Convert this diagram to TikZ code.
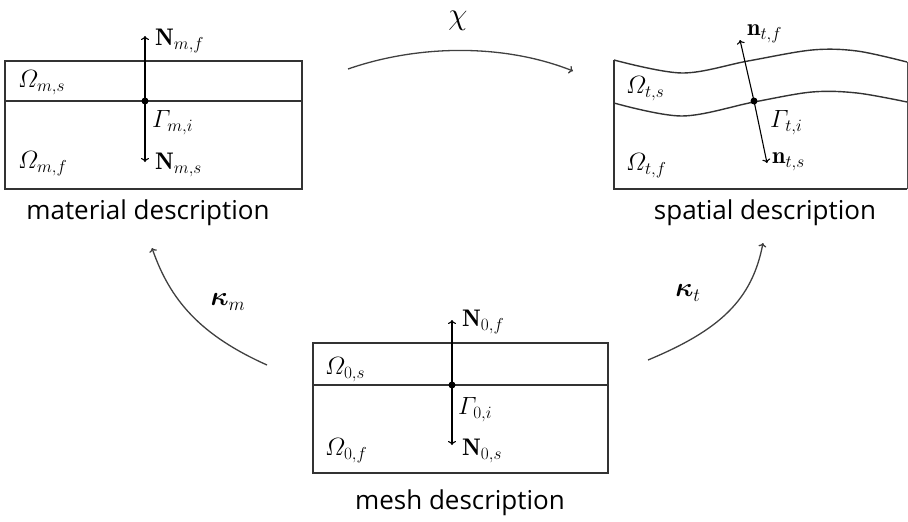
\documentclass[tikz,border=0pt]{standalone}
\usepackage{amsmath,bm}
\usepackage{fontspec}
\usetikzlibrary{arrows.meta}
\newfontfamily\capfont{Open Sans}
\begin{document}
\begin{tikzpicture}[x=1pt,y=-1pt,
  boxline/.style={line width=1.4pt, draw=black!80},
  normal/.style={line width=1.1pt, -{To[length=4pt,width=8pt]}},
  maparrow/.style={line width=1.3pt, draw=black!75, -{To[length=4pt,width=8pt]}},
  lab/.style={inner sep=0pt, font=\fontsize{24}{26}\selectfont},
  biglab/.style={inner sep=0pt, font=\fontsize{24}{26}\selectfont, scale=1.09, transform shape},
  chilab/.style={inner sep=0pt, font=\fontsize{24}{26}\selectfont, scale=1.25, transform shape},
  caption/.style={inner sep=0pt, font=\capfont\fontsize{26}{30}\selectfont},
  dot/.style={circle, fill=black, inner sep=0pt, minimum size=7pt}]
\useasboundingbox (0,0) rectangle (908,522);

% ---------- material description ----------
\draw[boxline] (5,61) rectangle (302,189);
\draw[boxline] (5,101) -- (302,101);
\coordinate (mtop) at (145,36);
\coordinate (mbot) at (145,162);
\node[dot] (mdot) at (145,101) {};
\draw[normal] (mdot.center) -- (mtop);
\draw[normal] (mdot.center) -- (mbot);
\node[lab, anchor=west] (Nmf) at (155,41) {$\mathbf{N}_{m,f}$};
\node[lab, anchor=west] (Oms) at (18,83) {$\varOmega_{m,s}$};
\node[lab, anchor=west] (Gmi) at (152,123) {$\varGamma_{m,i}$};
\node[lab, anchor=west] (Omf) at (18,164) {$\varOmega_{m,f}$};
\node[lab, anchor=west] (Nms) at (155,165) {$\mathbf{N}_{m,s}$};
\node[caption] (mcap) at (148,213) {material description};

% ---------- spatial description ----------
\draw[boxline] (614,60) -- (614,189) -- (907,189);
\draw[boxline] plot[smooth, tension=0.55] coordinates {(614,60) (682,73) (748,61) (812,50) (857,51) (907,62)};
\draw[boxline] plot[smooth, tension=0.55] coordinates {(614,103) (682,116) (754,102) (812,92) (857,93) (907,102)};
\draw[line width=0.7pt, draw=black!70] (907,62) -- (907,189);
\coordinate (stop) at (740,40);
\coordinate (sbot) at (767,163);
\node[dot] (sdot) at (754,101) {};
\draw[normal] (sdot.center) -- (stop);
\draw[normal] (sdot.center) -- (sbot);
\node[lab, anchor=west] (ntf) at (747,34) {$\mathbf{n}_{t,f}$};
\node[lab, anchor=west] (Ots) at (626,89) {$\varOmega_{t,s}$};
\node[lab, anchor=west] (Gti) at (770,123) {$\varGamma_{t,i}$};
\node[lab, anchor=west] (Otf) at (626,166) {$\varOmega_{t,f}$};
\node[lab, anchor=west] (nts) at (772,162) {$\mathbf{n}_{t,s}$};
\node[caption] (scap) at (765,213) {spatial description};

% ---------- mesh description ----------
\draw[boxline] (313,343) rectangle (608,473);
\draw[boxline] (313,385) -- (608,385);
\coordinate (otop) at (452,320);
\coordinate (obot) at (452,445);
\node[dot] (odot) at (452,385) {};
\draw[normal] (odot.center) -- (otop);
\draw[normal] (odot.center) -- (obot);
\node[lab, anchor=west] (N0f) at (462,322) {$\mathbf{N}_{0,f}$};
\node[lab, anchor=west] (O0s) at (325,370) {$\varOmega_{0,s}$};
\node[lab, anchor=west] (G0i) at (458,410) {$\varGamma_{0,i}$};
\node[lab, anchor=west] (O0f) at (325,451) {$\varOmega_{0,f}$};
\node[lab, anchor=west] (N0s) at (462,451) {$\mathbf{N}_{0,s}$};
\node[caption] (ocap) at (460,503) {mesh description};

% ---------- mappings ----------
\coordinate (chiS) at (348,69);
\coordinate (chiE) at (573,71);
\draw[maparrow] (chiS) .. controls (420,44) and (505,44) .. (chiE);
\node[chilab] (chi) at (458,21) {$\chi$};

\coordinate (kmS) at (267,365);
\coordinate (kmE) at (152,248);
\draw[maparrow] (kmS) .. controls (200,335) and (170,300) .. (kmE);
\node[biglab] (km) at (228,302) {$\bm{\kappa}_m$};

\coordinate (ktS) at (648,360);
\coordinate (ktE) at (763,243);
\draw[maparrow] (ktS) .. controls (720,330) and (752,300) .. (ktE);
\node[biglab] (kt) at (688,293) {$\bm{\kappa}_t$};
\end{tikzpicture}
\end{document}
